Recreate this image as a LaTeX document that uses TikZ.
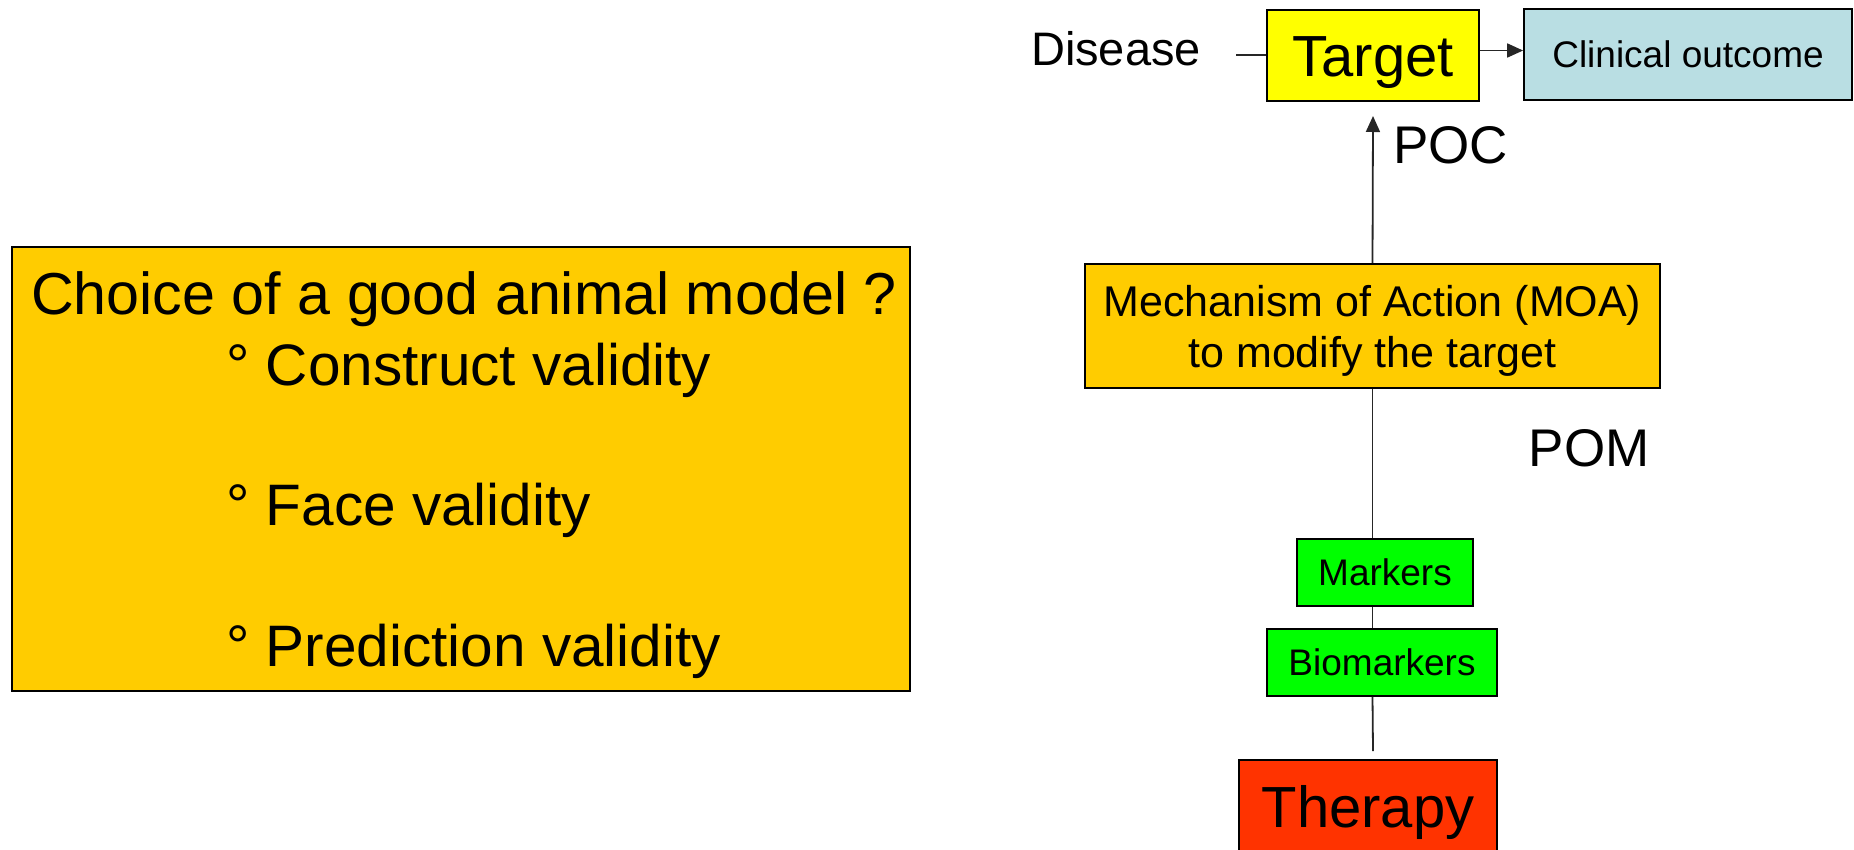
\documentclass[tikz,border=0pt]{standalone}
\usepackage{fontspec}
\setmainfont{Liberation Sans}
\usetikzlibrary{arrows.meta}
\definecolor{tyellow}{RGB}{255,255,0}
\definecolor{tblue}{RGB}{185,222,227}
\definecolor{torange}{RGB}{255,204,0}
\definecolor{tgreen}{RGB}{0,255,0}
\definecolor{tred}{RGB}{255,51,0}
\begin{document}
\begin{tikzpicture}[x=1pt,y=-1pt,
  box/.style={draw=black,line width=1.8pt,inner sep=0pt,align=center,text depth=0pt},
  conn/.style={line width=1.8pt,draw=black!85},
  arr/.style={conn,-{Triangle[length=16pt,width=14pt]}},
  big/.style={font=\fontsize{58}{70}\selectfont,text height=41.5pt},
  mid/.style={font=\fontsize{37}{44}\selectfont,text height=26.5pt},
  lbl/.style={inner sep=0pt,anchor=base},
  item/.style={inner sep=0pt,anchor=base west,font=\fontsize{58.5}{70}\selectfont}]
\useasboundingbox (0,0) rectangle (1854,849);

% left box
\node[box,fill=torange,minimum width=898,minimum height=444] (model) at (461,469) {};
\node[lbl,anchor=base west,font=\fontsize{59.2}{71}\selectfont] (choice) at (31,314) {Choice of a good animal model ?};
\node[item] (construct) at (226,385) {° Construct validity};
\node[item] (face) at (226,525) {° Face validity};
\node[item] (predict) at (226,666) {° Prediction validity};

% right chain
\node[box,big,fill=tyellow,minimum width=212,minimum height=91] (target) at (1373,55.5) {Target};
\node[box,mid,fill=tblue,minimum width=328,minimum height=91] (clinical) at (1688,54.5) {Clinical outcome};
\node[lbl,font=\fontsize{47}{56}\selectfont] (disease) at (1116,65) {Disease};
\node[lbl,anchor=base west,font=\fontsize{53}{64}\selectfont] (poc) at (1393,163) {POC};
\node[box,fill=torange,minimum width=575,minimum height=124,font=\fontsize{43}{51}\selectfont] (moa) at (1372.5,326)
  {Mechanism of Action (MOA)\\to modify the target};
\node[lbl,font=\fontsize{53}{64}\selectfont] (pom) at (1589,466) {POM};
\node[box,mid,fill=tgreen,minimum width=176,minimum height=67] (markers) at (1385,572.5) {Markers};
\node[box,mid,fill=tgreen,minimum width=230,minimum height=67] (biomarkers) at (1382,662.5) {Biomarkers};
\node[box,big,fill=tred,minimum width=258,minimum height=93] (therapy) at (1368,806.5) {Therapy};

\coordinate (dline) at (1236,55);
\coordinate (poctip) at (1373,116);
\coordinate (thtop) at (1373,751);

\draw[conn] (dline) -- (dline -| target.west);
\draw[arr] ([yshift=5pt]target.east) -- ([yshift=5pt]target.east -| clinical.west);
\draw[arr] (moa.north) -- (poctip);
\draw[conn] (moa.south) -- (moa.south |- markers.north);
\draw[conn] (moa.south |- markers.south) -- (moa.south |- biomarkers.north);
\draw[conn] (moa.south |- biomarkers.south) -- (thtop);
\end{tikzpicture}
\end{document}
